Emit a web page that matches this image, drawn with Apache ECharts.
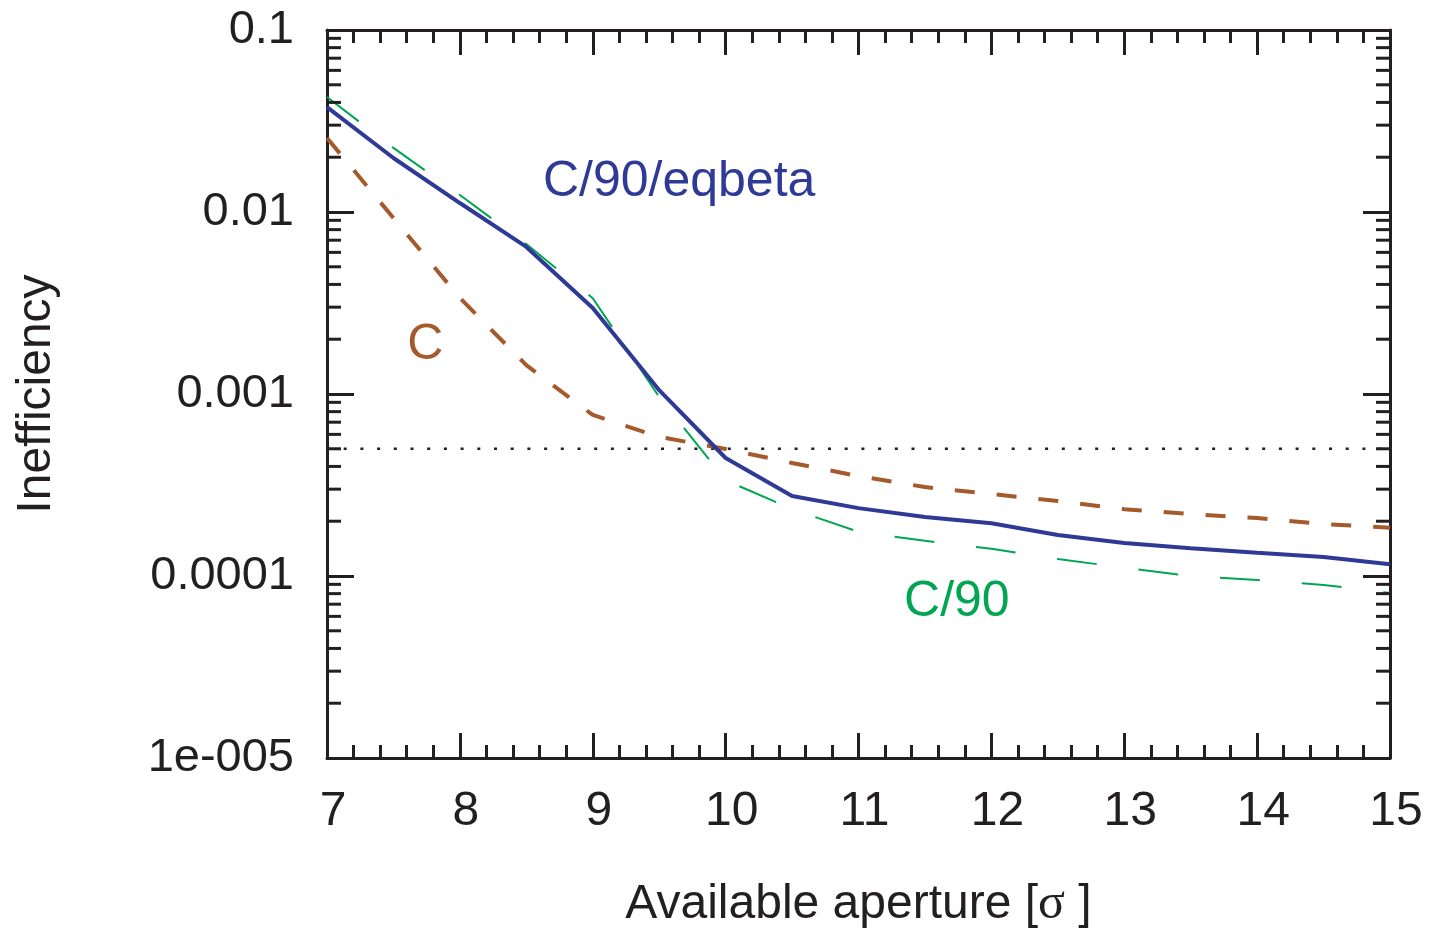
<!DOCTYPE html>
<html>
<head>
<meta charset="utf-8">
<script src="https://cdn.jsdelivr.net/npm/echarts@6/dist/echarts.min.js"></script>
<style>
html,body{margin:0;padding:0;background:#fff;}
#chart{width:1429px;height:929px;}
</style>
</head>
<body>
<div id="chart"></div>
<script>
// ---- data ----
const apertures = [7, 7.5, 8, 8.5, 9, 9.5, 10, 10.5, 11, 11.5, 12, 12.5, 13, 13.5, 14, 14.5, 15];
const ineffEqbeta = [0.0377, 0.0198, 0.0112, 0.00643, 0.00297, 0.00105, 0.000445, 0.000275, 0.000236, 0.000211, 0.000195, 0.000168, 0.000152, 0.000142, 0.000134, 0.000127, 0.000116];
const ineffC = [0.0255, 0.00927, 0.00337, 0.00144, 0.000767, 0.000581, 0.000499, 0.000418, 0.000354, 0.000308, 0.000282, 0.000258, 0.000233, 0.000219, 0.000208, 0.000193, 0.000184];
const ineffC90 = [0.0428, 0.0225, 0.0124, 0.00667, 0.00336, 0.000964, 0.000336, 0.000233, 0.000175, 0.000156, 0.000141, 0.000124, 0.000111, 0.0001, 0.0000951, 0.0000893, 0.0000807];
const thresholdValue = 0.0005;
const xTickLabels = ['7', '8', '9', '10', '11', '12', '13', '14', '15'];
const yTickLabels = ['1e-005', '0.0001', '0.001', '0.01', '0.1'];
const seriesNames = ['C/90/eqbeta', 'C', 'C/90'];
const labelPositions = [[9.65, 0.0146], [7.74, 0.00186], [11.74, 0.0000719]];
const xMin = 7, xMax = 15, yMin = 1e-5, yMax = 0.1;
const minorMultipliers = [2, 3, 4, 5, 6, 7, 8, 9];
const decadeExps = [-5, -4, -3, -2];

// ---- styles ----
const FONT = 'Liberation Sans, Arial, Helvetica, sans-serif';
const AXIS_COLOR = '#231f20';
const colors = ['#2e3a96', '#a65a2c', '#00a651'];

const zip = (xs, ys) => xs.map((x, i) => [x, ys[i]]);
const minorValues = [];
decadeExps.forEach(e => minorMultipliers.forEach(m => minorValues.push([xMin, m * Math.pow(10, e)])));

const chart = echarts.init(document.getElementById('chart'), null, {renderer: 'canvas'});

const xAxisBase = {
  type: 'value', min: xMin, max: xMax, interval: 1,
  axisLine: {show: true, lineStyle: {color: AXIS_COLOR, width: 3}},
  axisTick: {show: true, inside: true, length: 25, lineStyle: {color: AXIS_COLOR, width: 3}},
  minorTick: {show: true, splitNumber: 5, length: 13, lineStyle: {color: AXIS_COLOR, width: 3}},
  splitLine: {show: false}, minorSplitLine: {show: false}
};
const yAxisBase = {
  type: 'log', logBase: 10, min: yMin, max: yMax,
  axisLine: {show: true, lineStyle: {color: AXIS_COLOR, width: 3}},
  axisTick: {show: true, inside: true, length: 27, lineStyle: {color: AXIS_COLOR, width: 3}},
  splitLine: {show: false}
};

const option = {
  backgroundColor: '#fff',
  animation: false,
  grid: {left: 327, right: 39, top: 30, bottom: 171, containLabel: false, outerBoundsMode: 'none'},
  xAxis: [
    Object.assign({}, xAxisBase, {
      position: 'bottom',
      name: '{a|Available aperture [}{s|σ}{a| ]}', nameLocation: 'middle', nameGap: 122,
      nameTextStyle: {fontFamily: FONT, fontSize: 48, color: AXIS_COLOR,
        rich: {
          a: {fontFamily: FONT, fontSize: 48, color: AXIS_COLOR},
          s: {fontFamily: 'Liberation Serif, DejaVu Serif, serif', fontSize: 50, color: AXIS_COLOR}
        }},
      axisLabel: {show: true, margin: 30, fontFamily: FONT, fontSize: 48, color: AXIS_COLOR,
        padding: [0, 0, 0, 12],
        formatter: (v) => xTickLabels[Math.round(v - xMin)] || ''}
    }),
    Object.assign({}, xAxisBase, {position: 'top', axisLabel: {show: false}})
  ],
  yAxis: [
    Object.assign({}, yAxisBase, {
      position: 'left',
      name: 'Inefficiency', nameLocation: 'middle', nameGap: 266,
      nameTextStyle: {fontFamily: FONT, fontSize: 48, color: AXIS_COLOR},
      axisLabel: {show: true, margin: 33, fontFamily: FONT, fontSize: 47, color: AXIS_COLOR,
        formatter: (v) => yTickLabels[Math.round(Math.log10(v)) + 5] || ''}
    }),
    Object.assign({}, yAxisBase, {position: 'right', axisLabel: {show: false}})
  ],
  series: [
    {
      name: 'threshold', type: 'line', symbol: 'none', silent: true,
      data: [[xMin, thresholdValue], [xMax, thresholdValue]],
      lineStyle: {color: AXIS_COLOR, width: 2.5, type: [3, 13.7]}, z: 1
    },
    {
      name: seriesNames[1], type: 'line', symbol: 'none', data: zip(apertures, ineffC),
      lineStyle: {color: colors[1], width: 4, type: [20, 22]}, z: 3
    },
    {
      name: seriesNames[2], type: 'line', symbol: 'none', data: zip(apertures, ineffC90),
      lineStyle: {color: colors[2], width: 2, type: [40, 42]}, z: 2
    },
    {
      name: seriesNames[0], type: 'line', symbol: 'none', data: zip(apertures, ineffEqbeta),
      lineStyle: {color: colors[0], width: 4}, z: 4
    },
    {
      name: 'labels', type: 'scatter', symbolSize: 0, silent: true,
      data: labelPositions.map((p, i) => ({
        value: p,
        itemStyle: {color: colors[i], opacity: 1},
        label: {show: true, position: 'inside', formatter: seriesNames[i],
          fontFamily: FONT, fontSize: 50, color: colors[i], opacity: 1,
          textBorderWidth: 0, textShadowBlur: 0}
      })),
      z: 5
    },
    {
      name: 'yMinorTicks', type: 'custom', silent: true, clip: false,
      encode: {x: 0, y: 1},
      data: minorValues,
      renderItem: function (params, api) {
        const v = api.value(1);
        const pL = api.coord([xMin, v]);
        const pR = api.coord([xMax, v]);
        const st = {stroke: AXIS_COLOR, lineWidth: 3};
        return {type: 'group', children: [
          {type: 'line', shape: {x1: pL[0], y1: pL[1], x2: pL[0] + 14, y2: pL[1]}, style: st},
          {type: 'line', shape: {x1: pR[0] - 14, y1: pR[1], x2: pR[0], y2: pR[1]}, style: st}
        ]};
      },
      z: 6
    }
  ]
};
chart.setOption(option);
</script>
</body>
</html>
